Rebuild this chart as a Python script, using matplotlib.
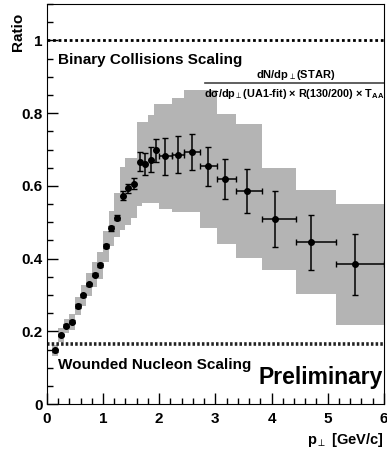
import numpy as np
import matplotlib.pyplot as plt
from matplotlib.ticker import MultipleLocator

plt.rcParams['font.family'] = ['Liberation Sans', 'DejaVu Sans']
plt.rcParams['mathtext.fontset'] = 'custom'
plt.rcParams['mathtext.rm'] = 'Liberation Sans:bold'
plt.rcParams['mathtext.it'] = 'Liberation Sans:bold'
plt.rcParams['mathtext.bf'] = 'Liberation Sans:bold'

# measured ratio points
pt = [0.15, 0.25, 0.35, 0.45, 0.55, 0.65, 0.75, 0.85, 0.95, 1.05,
      1.15, 1.25, 1.35, 1.45, 1.55, 1.65, 1.75, 1.85, 1.95, 2.11,
      2.33, 2.58, 2.86, 3.17, 3.56, 4.06, 4.70, 5.49]
ratio = [0.148, 0.190, 0.215, 0.226, 0.269, 0.299, 0.329, 0.356, 0.382, 0.434,
         0.483, 0.513, 0.573, 0.593, 0.606, 0.667, 0.661, 0.672, 0.698, 0.681,
         0.686, 0.693, 0.654, 0.618, 0.586, 0.510, 0.445, 0.384]
stat_err = [0.004, 0.004, 0.004, 0.004, 0.005, 0.005, 0.005, 0.005, 0.006, 0.006,
            0.007, 0.008, 0.012, 0.012, 0.015, 0.027, 0.030, 0.035, 0.032, 0.050,
            0.050, 0.050, 0.053, 0.055, 0.060, 0.077, 0.076, 0.084]

# bin edges (used for x error bars at high pT and systematic boxes)
bin_lo = [0.10, 0.20, 0.30, 0.40, 0.50, 0.60, 0.70, 0.80, 0.90, 1.00,
          1.10, 1.20, 1.30, 1.40, 1.50, 1.60, 1.70, 1.80, 1.90, 2.00,
          2.22, 2.45, 2.72, 3.03, 3.36, 3.83, 4.44, 5.15]
bin_hi = [0.20, 0.30, 0.40, 0.50, 0.60, 0.70, 0.80, 0.90, 1.00, 1.10,
          1.20, 1.30, 1.40, 1.50, 1.60, 1.70, 1.80, 1.90, 2.00, 2.22,
          2.45, 2.72, 3.03, 3.36, 3.83, 4.44, 5.15, 6.00]
n_xerr = 9  # last points carry a horizontal bin-width bar

# systematic band, lower / upper edge per bin
sys_low = [0.133, 0.172, 0.195, 0.205, 0.244, 0.271, 0.298, 0.322, 0.345, 0.392,
           0.436, 0.460, 0.480, 0.492, 0.513, 0.544, 0.553, 0.553, 0.553, 0.537,
           0.527, 0.527, 0.483, 0.441, 0.403, 0.368, 0.304, 0.217]
sys_high = [0.163, 0.208, 0.235, 0.247, 0.294, 0.327, 0.360, 0.390, 0.419, 0.476,
            0.530, 0.580, 0.651, 0.678, 0.678, 0.776, 0.776, 0.796, 0.826, 0.826,
            0.842, 0.863, 0.863, 0.799, 0.771, 0.650, 0.588, 0.551]

binary_level = 1.0
wounded_level = 0.164

fig = plt.figure(figsize=(3.87, 4.53), dpi=100)
ax = fig.add_axes([0.121, 0.108, 0.871, 0.883])

lo = np.array(bin_lo)
hi = np.array(bin_hi)
ax.bar((lo + hi) / 2, np.array(sys_high) - np.array(sys_low), width=hi - lo,
       bottom=sys_low, color='#b4b4b4', linewidth=0, zorder=1)

ax.axhline(binary_level, color='black', lw=2, ls=(0, (1, 1)), zorder=2)
ax.axhline(wounded_level, color='#222222', lw=2.6, ls=(0, (0.7, 0.6)), zorder=2)

x = np.array(pt)
xerr = np.zeros((2, len(pt)))
xerr[0, -n_xerr:] = (x - lo)[-n_xerr:]
xerr[1, -n_xerr:] = (hi - x)[-n_xerr:]
ax.errorbar(x, ratio, yerr=stat_err, xerr=xerr, fmt='o', color='black',
            ms=4.0, elinewidth=1.1, capsize=2, capthick=1, zorder=3)

ax.set_xlim(0, 6)
ax.set_ylim(0, 1.1)
ax.xaxis.set_major_locator(MultipleLocator(1))
ax.xaxis.set_minor_locator(MultipleLocator(0.2))
ax.yaxis.set_major_locator(MultipleLocator(0.2))
ax.yaxis.set_minor_locator(MultipleLocator(0.05))
ax.set_yticks([0, 0.2, 0.4, 0.6, 0.8, 1.0])
ax.set_yticklabels(['0', '0.2', '0.4', '0.6', '0.8', '1'])
ax.tick_params(which='both', direction='in', top=False, right=False,
               labelsize=11)
ax.tick_params(which='major', length=8, width=1)
ax.tick_params(which='minor', length=4, width=1)
ax.tick_params(axis='x', pad=6)
ax.tick_params(axis='y', pad=3)
for lab in ax.get_xticklabels() + ax.get_yticklabels():
    lab.set_fontweight('bold')

ax.text(-0.086, 0.978, 'Ratio', transform=ax.transAxes, rotation=90,
        ha='center', va='top', fontsize=11, fontweight='bold')
ax.text(1.0, -0.067, r'p$_{\perp}$ [GeV/c]', transform=ax.transAxes,
        ha='right', va='top', fontsize=10.5, fontweight='bold')

ax.text(0.19, 0.945, 'Binary Collisions Scaling', fontsize=11,
        fontweight='bold', va='center')
ax.text(0.19, 0.107, 'Wounded Nucleon Scaling', fontsize=11,
        fontweight='bold', va='center')
ax.text(5.98, 0.072, 'Preliminary', fontsize=16.5, fontweight='bold',
        ha='right', va='center')

ax.text(4.42, 0.905, r'dN/dp$_{\perp}$(STAR)', fontsize=8,
        fontweight='bold', ha='center', va='center')
ax.plot([2.81, 6.0], [0.883, 0.883], color='#444444', lw=1.2, zorder=2)
ax.text(4.4, 0.852,
        r'd$\sigma$/dp$_{\perp}$(UA1-fit) $\times$ R(130/200) $\times$ T$_{AA}$',
        fontsize=7.8, fontweight='bold', ha='center', va='center')

fig.savefig('out.png', dpi=100)
